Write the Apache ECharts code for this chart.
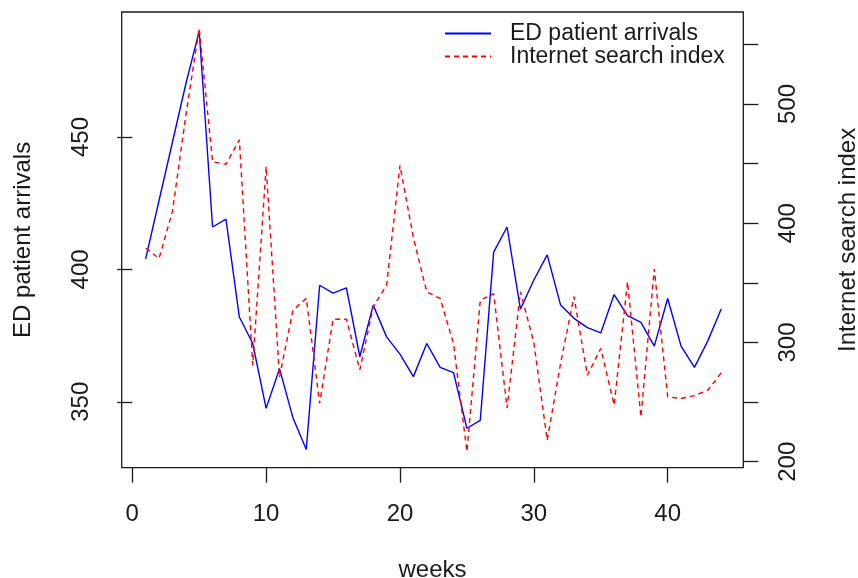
<!DOCTYPE html>
<html>
<head>
	<meta charset="utf-8">
	<title></title>
	<script src="https://cdn.jsdelivr.net/npm/echarts@6/dist/echarts.min.js"></script>
	<style>
	html, body {
		margin: 0;
		padding: 0;
		background: #ffffff;
	}
	#main {
		width: 858px;
		height: 578px;
	}
	</style>
</head>
<body>
	<div id="main"></div>
	<script>
		var weeks = [1, 2, 3, 4, 5, 6, 7, 8, 9, 10, 11, 12, 13, 14, 15, 16, 17, 18, 19, 20, 21, 22,
			23, 24, 25, 26, 27, 28, 29, 30, 31, 32, 33, 34, 35, 36, 37, 38, 39, 40, 41, 42, 43, 44];

		// ED patient arrivals (left axis)
		var arrivals = [404, 426, 448, 470, 490, 416, 419, 382, 372, 347.5, 362.5, 344, 332, 394,
			391, 393, 367, 386.5, 374.5, 368, 359.5, 372, 363, 361, 340, 343, 406.5, 416, 385,
			396, 405.5, 386.5, 381.5, 378, 376, 390.5, 382.5, 380, 371, 389, 371, 363, 373, 385];

		// Internet search index (right axis)
		var searchIndex = [379, 370.5, 410, 490, 563.5, 451.5, 449.5, 470, 281, 447.5, 271, 327, 337,
			249, 319.5, 319.5, 277, 330, 348, 448.5, 388, 342.5, 337, 299, 208.5, 335.5, 341, 245,
			342.5, 300, 218, 282.5, 338.5, 272.5, 295, 247.5, 351, 237.5, 361.5, 254.5, 253, 255.5,
			260, 274.5];

		var xTicks = [0, 10, 20, 30, 40];
		var leftTicks = [350, 400, 450];
		var rightTicks = [200, 250, 300, 350, 400, 450, 500, 550];
		var rightLabels = [200, 300, 400, 500];

		var font = 'Liberation Sans';
		var ink = '#1a1a1a';

		function pairs(xs, ys) {
			var out = [];
			for (var i = 0; i < xs.length; i++) {
				out.push([xs[i], ys[i]]);
			}
			return out;
		}

		var tickStyle = {
			show: true,
			inside: false,
			length: 15,
			lineStyle: { color: ink, width: 1.3 }
		};

		var myChart = echarts.init(document.getElementById('main'), null, { renderer: 'canvas' });

		var option = {
			animation: false,
			backgroundColor: '#ffffff',
			textStyle: { fontFamily: font },
			grid: {
				left: 121.7,
				right: 114.7,
				top: 12,
				bottom: 110.3,
				show: true,
				borderColor: ink,
				borderWidth: 1.3,
				outerBoundsMode: 'none'
			},
			legend: {
				orient: 'vertical',
				left: 444,
				top: 22,
				padding: 0,
				itemWidth: 46,
				itemHeight: 14,
				itemGap: 0,
				itemStyle: { color: 'transparent', borderWidth: 0 },
				textStyle: {
					fontFamily: font,
					fontSize: 23,
					color: ink,
					padding: [6, 0, 0, 14]
				},
				data: ['ED patient arrivals', 'Internet search index']
			},
			xAxis: {
				type: 'value',
				min: -0.79,
				max: 45.65,
				name: 'weeks',
				nameLocation: 'middle',
				nameGap: 91,
				nameTextStyle: { fontFamily: font, fontSize: 24, color: ink },
				axisLine: { show: false, onZero: false },
				axisTick: Object.assign({ customValues: xTicks }, tickStyle),
				axisLabel: {
					customValues: xTicks,
					margin: 35,
					fontFamily: font,
					fontSize: 24,
					color: ink
				},
				splitLine: { show: false }
			},
			yAxis: [{
				type: 'value',
				position: 'left',
				min: 325.1,
				max: 497.2,
				name: 'ED patient arrivals',
				nameLocation: 'middle',
				nameGap: 86,
				nameTextStyle: { fontFamily: font, fontSize: 24, color: ink },
				axisLine: { show: false },
				axisTick: Object.assign({ customValues: leftTicks }, tickStyle),
				axisLabel: {
					customValues: leftTicks,
					rotate: 90,
					margin: 28,
					fontFamily: font,
					fontSize: 24,
					color: ink
				},
				splitLine: { show: false }
			}, {
				type: 'value',
				position: 'right',
				min: 195,
				max: 577.2,
				name: 'Internet search index',
				nameLocation: 'middle',
				nameGap: 93,
				nameTextStyle: { fontFamily: font, fontSize: 24, color: ink },
				axisLine: { show: false },
				axisTick: Object.assign({ customValues: rightTicks }, tickStyle),
				axisLabel: {
					customValues: rightLabels,
					rotate: 90,
					margin: 33,
					fontFamily: font,
					fontSize: 24,
					color: ink
				},
				splitLine: { show: false }
			}],
			series: [{
				name: 'ED patient arrivals',
				type: 'line',
				yAxisIndex: 0,
				symbol: 'none',
				color: '#0000ff',
				lineStyle: { color: '#0000ff', width: 1.4 },
				data: pairs(weeks, arrivals)
			}, {
				name: 'Internet search index',
				type: 'line',
				yAxisIndex: 1,
				symbol: 'none',
				color: '#ff0000',
				lineStyle: { color: '#ff0000', width: 1.4, type: [5, 4] },
				data: pairs(weeks, searchIndex)
			}]
		};
		myChart.setOption(option);
	</script>
</body>
</html>
